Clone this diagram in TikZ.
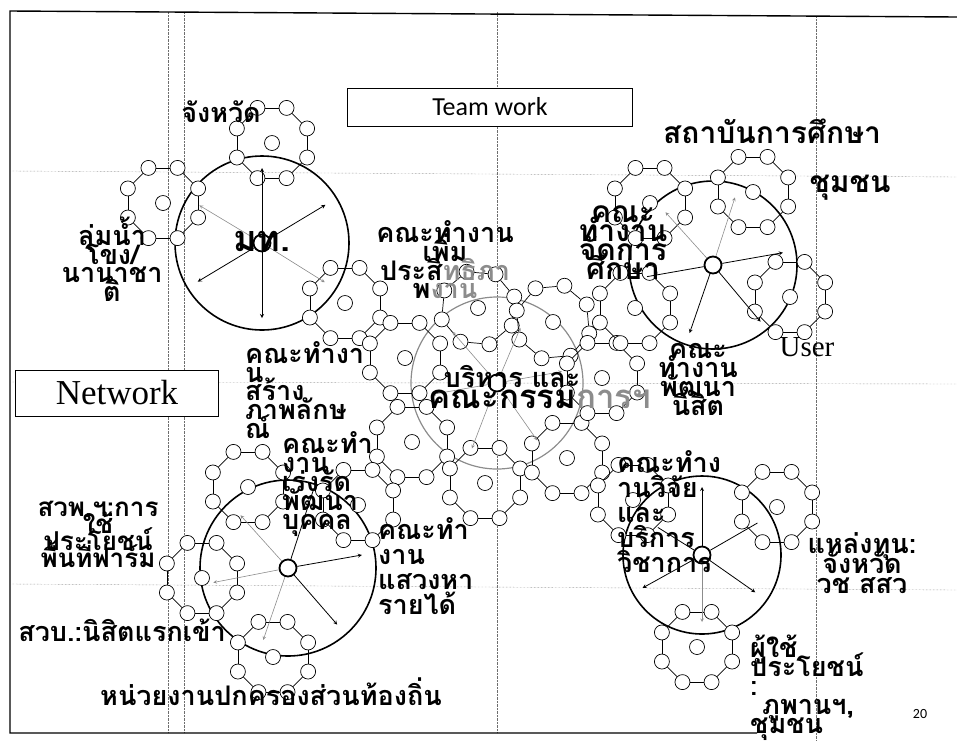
\documentclass[tikz,border=0pt]{standalone}
\usepackage{fontspec}
\usepackage{tikz}
\usetikzlibrary{arrows,calc,positioning}
\newfontfamily\thaifont[Script=Thai]{Loma}
\newfontfamily\slidefont{Carlito}
\newfontfamily\serifslide{Liberation Serif}
\newcommand{\thaisize}[2]{\thaifont\bfseries\fontsize{#1}{#2}\selectfont\lineskiplimit=-60pt}
\definecolor{scangray}{RGB}{140,140,140}
\definecolor{guidegray}{RGB}{110,110,110}
\tikzstyle{guide} = [densely dotted, thin, color=guidegray]
\tikzstyle{bead} = [circle, draw, fill=white, minimum size=15pt, inner sep=0pt, line width=0.7pt]
\tikzstyle{link} = [line width=0.7pt]
\tikzstyle{hub} = [circle, draw, fill=white, minimum size=17pt, inner sep=0pt, line width=1.8pt]
\tikzstyle{bigring} = [line width=1.6pt]
\tikzstyle{spoke} = [line width=0.8pt,->,>=stealth]
\tikzstyle{spokegray} = [line width=0.6pt,->,>=stealth,color=scangray]
\tikzstyle{spokeline} = [line width=0.8pt]
\tikzstyle{thailabel} = [inner sep=0pt, font=\thaisize{27}{19}]
\tikzstyle{thaibig} = [inner sep=0pt, font=\thaisize{30}{19}]
\tikzstyle{titlebox} = [draw, fill=white, line width=0.8pt]

% one ring of eight beads with a bead in the middle
\newcommand{\gear}[3]{%
  \node[bead] (#1-c) at (#2) {};
  \foreach \k in {1,...,8}
    \node[bead] (#1-\k) at ($(#2)+(22.5+45*\k+#3:38)$) {};
  \foreach \k [remember=\k as \j (initially 8)] in {1,...,8}
    \draw[link] (#1-\j) -- (#1-\k);
}

\begin{document}
\begin{tikzpicture}[x=1pt, y=-1pt]
    \useasboundingbox (0,0) rectangle (957,740);

    % Guide lines and frame
    \draw[guide] (168,12) -- (168,733);
    \draw[guide] (184,12) -- (184,733);
    \draw[guide] (497,12) -- (497,733);
    \draw[guide] (816,16) -- (816,740);
    \draw[guide] (12,171) -- (957,177);
    \draw[guide] (12,382) -- (957,384);
    \draw[guide] (12,584) -- (957,590);
    \draw[line width=1.4pt] (757,733) -- (10,733) -- (10,11) -- (957,17);

    % Big circles
    \coordinate (cTL) at (262,243);
    \coordinate (cC) at (497,383);
    \coordinate (cTR) at (713,265);
    \coordinate (cBL) at (288,568);
    \coordinate (cBR) at (702,555);
    \draw[bigring] (cTL) circle (87);
    \draw[bigring, color=scangray, line width=1.2pt] (cC) circle (86);
    \draw[bigring] (cTR) circle (84);
    \draw[bigring] (cBL) circle (88);
    \draw[bigring] (cBR) circle (79);

    % Gears
    \gear{gTLa}{272,143}{0}
    \gear{gTLb}{163,203}{0}
    \gear{gTLc}{345,303}{0}
    \gear{gCa}{478,308}{5}
    \gear{gCb}{553,322}{-5}
    \gear{gCc}{405,358}{0}
    \gear{gCd}{412,442}{0}
    \gear{gCe}{485,483}{0}
    \gear{gCf}{567,458}{0}
    \gear{gCg}{602,378}{0}
    \gear{gTRa}{650,203}{0}
    \gear{gTRb}{753,192}{0}
    \gear{gTRc}{790,297}{0}
    \gear{gTRd}{635,308}{0}
    \gear{gBLa}{248,487}{0}
    \gear{gBLb}{358,505}{0}
    \gear{gBLc}{202,578}{0}
    \gear{gBLd}{273,657}{0}
    \gear{gBRa}{633,500}{0}
    \gear{gBRb}{777,507}{0}
    \gear{gBRc}{697,647}{0}

    % Hubs and spokes
    \node[hub] (hubTL) at (cTL) {};
    \node[hub] (hubC) at (cC) {};
    \node[hub] (hubTR) at (cTR) {};
    \node[hub] (hubBL) at (cBL) {};
    \node[hub] (hubBR) at (cBR) {};
    \foreach \a/\l/\s in {270/75/spoke, 90/75/spoke, 329/74/spoke, 149/75/spoke, 211/73/spokegray, 32/74/spokegray}
        \draw[\s] (hubTL) -- ++(\a:\l);
    \foreach \a/\l in {229/68, 293/60, 350/66, 55/70, 111/70, 170/66}
        \draw[spokegray] (hubC) -- ++(\a:\l);
    \foreach \a/\l/\s in {228/71/spokegray, 288/71/spokegray, 350/71/spoke, 50/74/spoke, 109/72/spoke, 170/67/spokeline}
        \draw[\s] (hubTR) -- ++(\a:\l);
    \foreach \a/\l/\s in {350/75/spoke, 49/75/spoke, 109/76/spokegray, 169/76/spokegray, 228/71/spokegray, 288/82/spokeline}
        \draw[\s] (hubBL) -- ++(\a:\l);
    \foreach \a/\l/\s in {270/68/spoke, 151/68/spoke, 35/65/spoke, 90/67/spokegray, 330/64/spokeline, 212/52/spokeline}
        \draw[\s] (hubBR) -- ++(\a:\l);

    % Title boxes
    \node[titlebox, minimum width=285pt, minimum height=38pt, font=\slidefont\fontsize{26}{26}\selectfont] (teamwork) at (490,107) {Team work};
    \node[titlebox, minimum width=203pt, minimum height=46pt, font=\serifslide\fontsize{35}{35}\selectfont] (network) at (117,393) {Network};

    % Labels
    \node[thailabel] (lblProvince) at (221,112) {จังหวัด};
    \node[thailabel, align=center, font=\thaisize{27}{18.5}] (lblMekong) at (112,259) {ลุ่มน้ำ\\โขง/\\นานาชา\\ติ};
    \node[thailabel, font=\thaisize{36}{36}] (lblMoi) at (262,241) {มท.};
    \node[thaibig] (lblInst) at (772,131) {สถาบันการศึกษา};
    \node[thaibig] (lblCommunity) at (850,188) {ชุมชน};
    \node[thaibig, align=center] (lblEdu) at (623,243) {คณะ\\ทำงาน\\จัดการ\\ศึกษา};
    \node[inner sep=0pt, font=\serifslide\fontsize{29}{29}\selectfont] (lblUser) at (807,347) {User};
    \node[thailabel, align=center, font=\thaisize{27}{18.7}] (lblEfficiency) at (445,260) {คณะทำงาน\\เพิ่ม\\ประสิ{\color{scangray}ทธิภา}\\พ{\color{scangray}งาน}};
    \node[thailabel] (lblAdmin) at (512,376) {บริหาร และ};
    \node[thailabel, font=\thaisize{33}{33}] (lblBoard) at (540,399) {คณะกรรม{\color{scangray}การฯ}};
    \node[thailabel, align=left, anchor=west, font=\thaisize{27}{18.75}] (lblImage) at (245,390) {คณะทำงา\\น\\สร้าง\\ภาพลักษ\\ณ์};
    \node[thailabel, align=left, anchor=west] (lblStaff) at (282,484) {คณะทำ\\งาน\\เร่งรัด\\พัฒนา\\บุคคล};
    \node[thailabel, align=left, anchor=west, font=\thaisize{27}{25}] (lblIncome) at (378,566) {คณะทำ\\งาน\\แสวงหา\\รายได้};
    \node[thailabel, align=center, font=\thaisize{26}{17}] (lblFarm) at (98,534) {สวพ.ฯ:การ\\ใช้\\ประโยชน์\\พื้นที่ฟาร์ม};
    \node[thailabel] (lblFreshmen) at (122,630) {สวบ.:นิสิตแรกเข้า};
    \node[thailabel] (lblLocal) at (271,692) {หน่วยงานปกครองส่วนท้องถิ่น};
    \node[thailabel, align=center] (lblStudent) at (698,379) {คณะ\\ทำงาน\\พัฒนา\\นิสิต};
    \node[thailabel, align=left, anchor=west, font=\thaisize{27}{25}] (lblResearch) at (617,512) {คณะทำง\\านวิจัย\\และ\\บริการ\\วิชาการ};
    \node[thailabel, align=center, font=\thaisize{27}{20}] (lblFund) at (862,563) {แหล่งทุน:\\จังหวัด\\วช สสว};
    \node[thailabel, align=left, anchor=west] (lblUsers) at (750,688) {ผู้ใช้\\ประโยชน์\\:\\\hspace{12pt}ภูพานฯ,\\ชุมชน};
    \node[inner sep=0pt, font=\slidefont\fontsize{14}{14}\selectfont] (pageNo) at (920,714) {20};
\end{tikzpicture}
\end{document}
